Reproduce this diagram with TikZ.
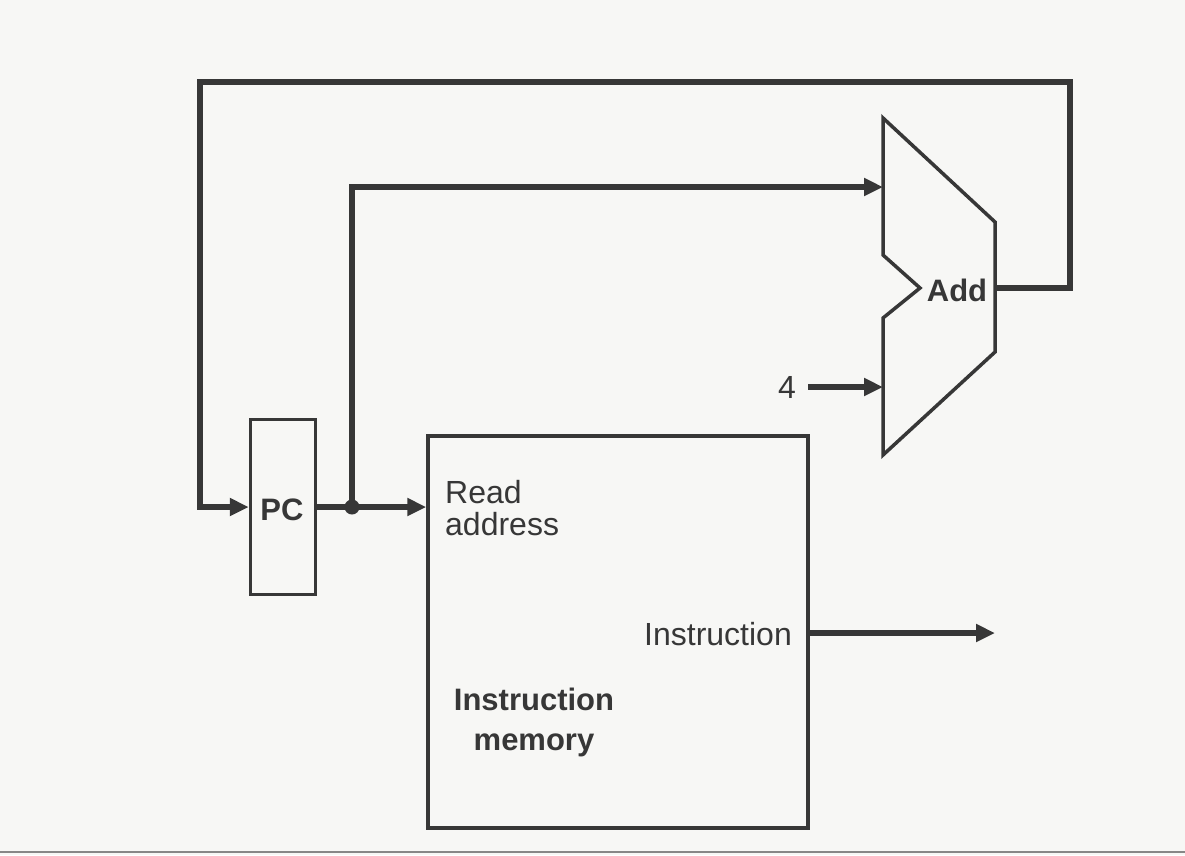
\documentclass[tikz,border=0pt]{standalone}
\usepackage{fontspec}
\setmainfont{Liberation Sans}
\usetikzlibrary{arrows.meta}
\definecolor{ink}{RGB}{55,55,55}
\definecolor{paper}{RGB}{247,247,245}
\begin{document}
\begin{tikzpicture}[x=1pt,y=-1pt,
  wire/.style={draw=ink, line width=6pt},
  arr/.style={-{Triangle[length=19pt,width=17pt]}},
  box/.style={draw=ink, line width=3.5pt, inner sep=0pt},
  lbl/.style={font=\fontsize{32}{36}\selectfont, text=ink, inner sep=0pt},
  blbl/.style={font=\fontsize{31}{35}\selectfont\bfseries, text=ink, inner sep=0pt}]
\fill[paper] (0,0) rectangle (1185,855);
\useasboundingbox (0,0) rectangle (1185,855);
\draw[ink!60, line width=2pt] (0,852) -- (1185,852);
% PC
\node[box, minimum width=65pt, minimum height=175pt] (pc) at (283,507) {};
\node[blbl, anchor=base] (pclbl) at (282,520) {PC};
% Instruction memory
\node[box, minimum width=380pt, minimum height=392pt] (mem) at (618,632) {};
\node[lbl, anchor=base west] (ra1) at (445,503) {Read};
\node[lbl, anchor=base west] (ra2) at (445,535) {address};
\node[lbl, anchor=base east] (instr) at (792,645) {Instruction};
\node[blbl, anchor=base] (im1) at (534,710) {Instruction};
\node[blbl, anchor=base] (im2) at (534,750) {memory};
% Adder
\draw[ink, line width=3.5pt, line join=miter] (883,118) -- (995,222) -- (995,352) -- (883,455) -- (883,318) -- (920,288) -- (883,255) -- cycle;
\node[blbl, anchor=base] (addlbl) at (957,301) {Add};
\coordinate (addin1) at (883,187);
\coordinate (addin2) at (883,387);
\coordinate (addout) at (995,288);
\node[lbl, anchor=base] (four) at (787,398) {4};
% wires
\coordinate (j) at (352,507);
\coordinate (iout) at (995,633);
\draw[wire, arr] (addout) -- (1070,288) -- (1070,82) -- (200,82) -- (200,507) -- (pc.west);
\draw[wire, arr] (pc.east) -- (pc.east -| mem.west);
\draw[wire, arr] (j) -- (352,187) -- (addin1);
\fill[ink] (j) circle (7.5pt);
\draw[wire, arr] (808,387) -- (addin2);
\draw[wire, arr] (mem.east |- iout) -- (iout);
\end{tikzpicture}
\end{document}
